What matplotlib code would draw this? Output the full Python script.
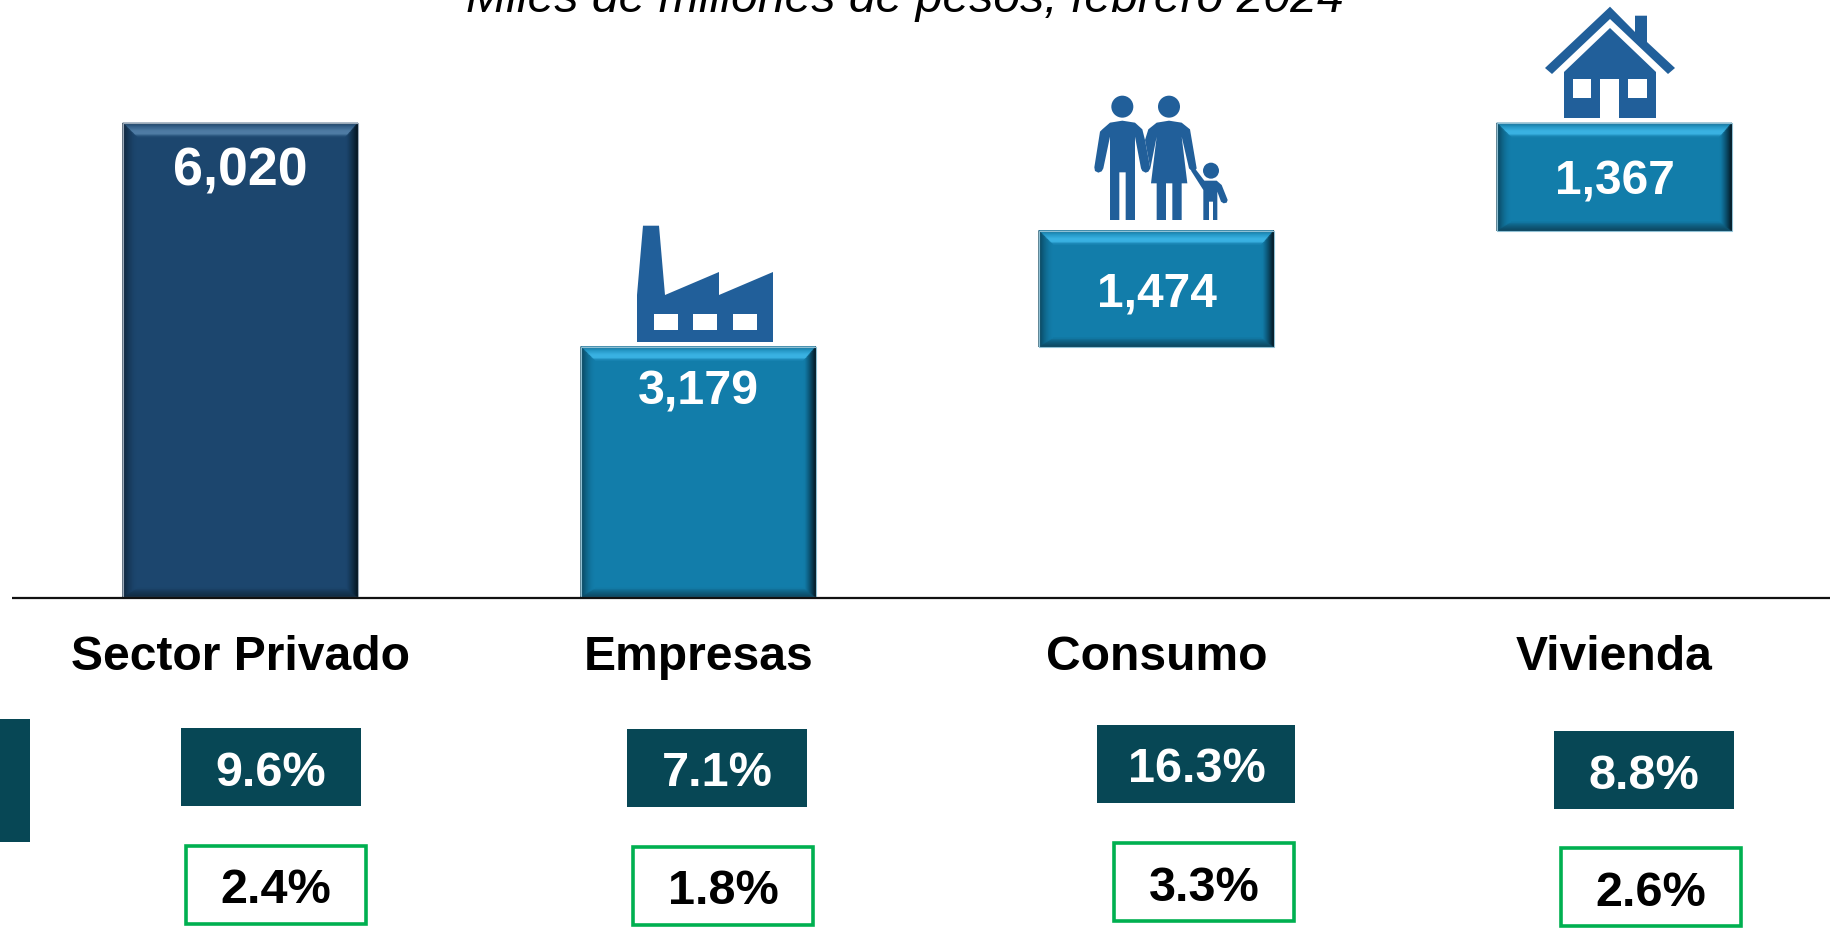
import numpy as np
import matplotlib
matplotlib.use('Agg')
import matplotlib.pyplot as plt
from matplotlib.colors import to_rgb
from matplotlib.patches import Circle, Polygon, Rectangle
from matplotlib.transforms import Affine2D

plt.rcParams['font.family'] = ['Liberation Sans', 'DejaVu Sans']

# datos
categorias = ['Sector Privado', 'Empresas', 'Consumo', 'Vivienda']
valores = [6020, 3179, 1474, 1367]
bases = [0, 0, 3179, 4653]
var_real = [9.6, 7.1, 16.3, 8.8]
var_otra = [2.4, 1.8, 3.3, 2.6]
titulo = 'Miles de millones de pesos, febrero 2024'

W, H = 1830, 931
AZUL_OSCURO = '#1C466E'
AZUL = '#127DAA'
ICONO = '#215F9A'
TEAL = '#074755'
VERDE = '#00B050'

fig = plt.figure(figsize=(W / 100, H / 100), dpi=100, facecolor='white')
ax = fig.add_axes([0, 0, 1, 1])
ax.axis('off')

# eje: categoria 0 en x=240 px, 458 px entre categorias; cero en y=597 px
esc_y = 474 / 6020
ax.set_xlim(-240.3 / 458, (W - 240.3) / 458)
ax.set_ylim(-(H - 597) / esc_y, 597 / esc_y)

# transform en pixeles con origen arriba a la izquierda
px = Affine2D().scale(1, -1).translate(0, H)


def caja(x0, y0, x1, y1, **kw):
    ax.add_patch(Rectangle((x0, y0), x1 - x0, y1 - y0, transform=px, **kw))


def texto(x, y, s, **kw):
    ax.text(x, y, s, transform=px, ha='center', va='baseline', fontweight='bold', **kw)


def bisel(barra, base, brillo, borde):
    (x0, y1), (x1, y0) = ax.transData.transform(
        [(barra.get_x(), barra.get_y()), (barra.get_x() + barra.get_width(), barra.get_y() + barra.get_height())])
    y0, y1 = H - y0, H - y1
    base = np.array(to_rgb(base))
    brillo = np.array(to_rgb(brillo))
    fondo = base * 0.5 + np.array(to_rgb('#1D4A60')) * 0.1
    negro = np.array(to_rgb('#02121C'))
    n = 18
    ts = np.linspace(0, 1, n + 1)
    for a, b in zip(ts[:-1], ts[1:]):
        m = (a + b) / 2
        # margenes del bisel: izq, arriba, der, abajo
        ra = (x0 + 14 * a, y0 + 14 * a, x1 - 12 * a, y1 - 9 * a)
        rb = (x0 + 14 * b, y0 + 14 * b, x1 - 12 * b, y1 - 9 * b)
        c_top = np.array([np.interp(m, [0, 0.3, 0.6, 0.8, 1], [base[i] * 0.85, (base[i] + brillo[i]) / 2, brillo[i], brillo[i], base[i]]) for i in range(3)])
        c_bot = fondo * (1 - m) ** 0.7 + base * (1 - (1 - m) ** 0.7)
        c_der = negro * (1 - m) ** 1.2 + base * (1 - (1 - m) ** 1.2)
        c_izq = base * 0.5 * (1 - m) ** 1.6 + base * (1 - (1 - m) ** 1.6)
        lados = [
            ([(ra[0], ra[1]), (ra[2], ra[1]), (rb[2], rb[1]), (rb[0], rb[1])], c_top),
            ([(ra[0], ra[3]), (ra[2], ra[3]), (rb[2], rb[3]), (rb[0], rb[3])], c_bot),
            ([(ra[2], ra[1]), (ra[2], ra[3]), (rb[2], rb[3]), (rb[2], rb[1])], c_der),
            ([(ra[0], ra[1]), (ra[0], ra[3]), (rb[0], rb[3]), (rb[0], rb[1])], c_izq),
        ]
        for pts, col in lados:
            ax.add_patch(Polygon(pts, closed=True, transform=px, facecolor=col, edgecolor=col, lw=0.5, zorder=3))
    ax.add_patch(Rectangle((x0, y0), x1 - x0, y1 - y0, transform=px, fill=False, edgecolor=borde, lw=0.8, zorder=4))


# barras
colores = [AZUL_OSCURO, AZUL, AZUL, AZUL]
brillos = ['#4F7CA5', '#3AB2E3', '#3AB2E3', '#3AB2E3']
bordes = ['#9AA9B8', '#8FC0D4', '#8FC0D4', '#8FC0D4']
barras = ax.bar(range(len(valores)), valores, bottom=bases, width=235 / 458, color=colores, zorder=2)
for barra, c, b, e in zip(barras, colores, brillos, bordes):
    bisel(barra, c, b, e)

# linea base
ax.plot([11.7, W], [597.8, 597.8], transform=px, color='#111111', lw=1.6, zorder=5, solid_capstyle='butt')

# titulo (cortado por arriba igual que el original)
ax.text(905, 11.5, titulo, transform=px, ha='center', va='baseline', style='italic', fontsize=34.7, color='black', clip_on=False)

# etiquetas de valor
etq_x = [240, 698, 1157, 1615]
etq_y = [186, 405, 306.7, 195]
etq_fs = [38.7, 34.8, 34.5, 34.5]
for x, y, v, fs in zip(etq_x, etq_y, valores, etq_fs):
    texto(x, y, f'{v:,}', color='white', fontsize=fs, zorder=6)

# categorias
cat_x = [240.5, 698.5, 1157, 1614.5]
for x, c in zip(cat_x, categorias):
    texto(x, 670, c, color='black', fontsize=34.6)

# cajas de variacion
cajas_teal = [(181, 728, 361, 806), (626.6, 729, 807, 807), (1097, 725, 1295, 803), (1554, 731, 1733.5, 809)]
cajas_verde = [(186, 846, 366, 924), (632.5, 847, 813, 925), (1114, 843, 1294, 921), (1561, 848, 1741, 926)]
txt_teal = [(270.7, 785.7), (717.6, 786.5), (1197, 782.3), (1644, 789)]
txt_verde = [(276, 903.3), (723, 904.3), (1204, 901), (1651, 905.7)]

caja(0, 719, 30, 842, facecolor=TEAL, edgecolor='none')
for r, (tx, ty), v in zip(cajas_teal, txt_teal, var_real):
    caja(*r, facecolor=TEAL, edgecolor='none')
    texto(tx, ty, f'{v}%', color='white', fontsize=35)
for r, (tx, ty), v in zip(cajas_verde, txt_verde, var_otra):
    caja(*r, facecolor='white', edgecolor=VERDE, lw=2.6)
    texto(tx, ty, f'{v}%', color='black', fontsize=35)


# iconos
def poli(pts, color=ICONO):
    ax.add_patch(Polygon(pts, closed=True, transform=px, facecolor=color, edgecolor='none', zorder=3))


# fabrica
poli([(643, 225.7), (659, 225.7), (665, 295), (719, 272), (719, 295), (773, 272), (773, 342), (637, 342), (637, 295)])
for wx in (653.5, 693, 733):
    caja(wx, 314, wx + 24, 330, facecolor='white', edgecolor='none', zorder=4)

# casa
poli([(1610, 6.7), (1635, 32), (1635, 15.7), (1647, 15.7), (1647, 42), (1675, 68), (1668, 74), (1610, 19), (1552, 74), (1545, 68)])
poli([(1610, 28), (1656, 72), (1656, 118), (1564, 118), (1564, 72)])
caja(1600, 79, 1619, 119, facecolor='white', edgecolor='none', zorder=4)
caja(1573, 79, 1591, 98, facecolor='white', edgecolor='none', zorder=4)
caja(1628, 79, 1647, 98, facecolor='white', edgecolor='none', zorder=4)


# familia (coordenadas del recorte de 3x con origen en 1085, 90)
def z(pts):
    return [(1085 + a / 3, 90 + b / 3) for a, b in pts]


hombre = [(112, 92), (150, 98), (172, 118), (180, 150), (196, 235), (190, 245), (182, 248), (172, 243), (168, 235), (150, 140),
          (150, 390), (122, 390), (122, 247), (103, 247), (103, 390), (75, 390), (75, 140), (55, 235), (50, 244), (40, 248),
          (30, 243), (28, 232), (45, 125), (52, 118), (75, 98)]
mujer = [(252, 92), (290, 98), (315, 118), (335, 235), (330, 243), (320, 243), (312, 235), (290, 140), (307, 280), (290, 280),
         (290, 390), (262, 390), (262, 280), (243, 280), (243, 390), (215, 390), (215, 280), (198, 280), (215, 140), (196, 235),
         (180, 150), (190, 118), (215, 98)]
nino = [(332, 238), (358, 272), (395, 272), (410, 285), (428, 330), (425, 338), (416, 340), (408, 335), (397, 305), (397, 390),
        (384, 390), (384, 335), (372, 335), (372, 390), (355, 390), (355, 300), (318, 242)]
poli(z(hombre))
poli(z(mujer))
poli(z(nino))
for cx, cy, r in [(112, 50, 33), (252, 50, 33), (378, 242, 24)]:
    (ex, ey), = z([(cx, cy)])
    ax.add_patch(Circle((ex, ey), r / 3, transform=px, facecolor=ICONO, edgecolor='none', zorder=3))

fig.savefig('out.png', dpi=100, facecolor='white')
